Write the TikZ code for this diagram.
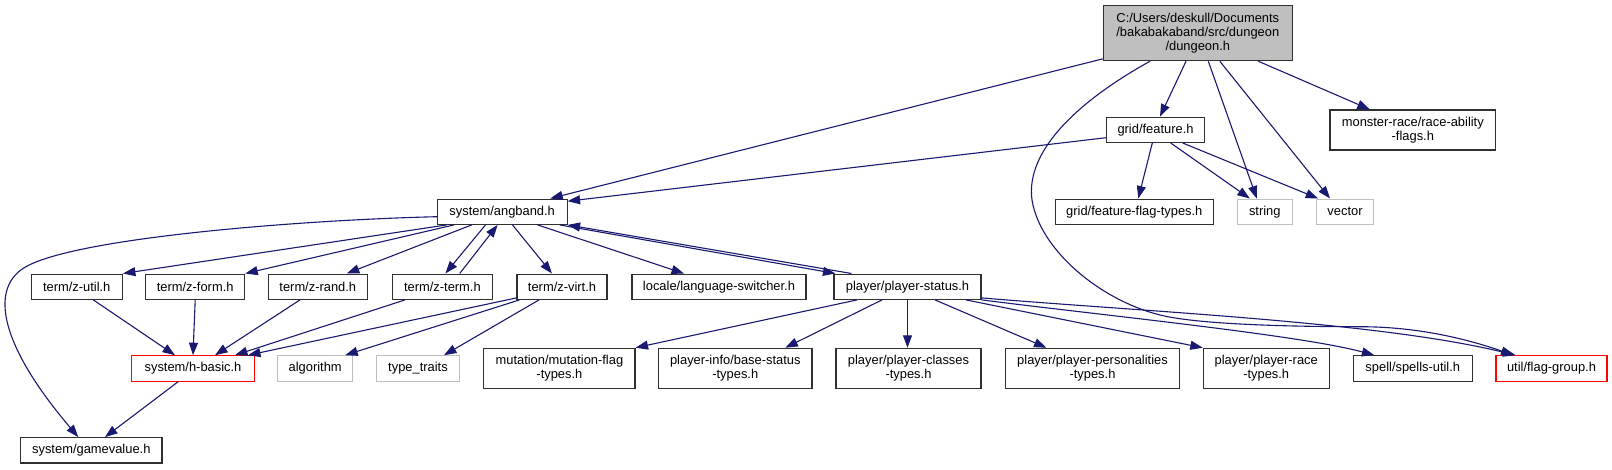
\documentclass[tikz,border=0pt]{standalone}
\usepackage{fontspec}
\setmainfont{Liberation Sans}
\usetikzlibrary{arrows.meta}
\definecolor{edgeblue}{HTML}{191970}
\definecolor{rootfill}{HTML}{BFBFBF}
\definecolor{lightborder}{HTML}{BFBFBF}
\definecolor{boxborder}{HTML}{303030}
\begin{document}
\begin{tikzpicture}[x=1pt,y=-1pt,
 box/.style={draw=boxborder, line width=1.1pt, fill=white, inner sep=0pt, minimum height=25.3pt,
   font=\fontsize{12.9}{13.7}\selectfont, align=center, text=black},
 tall/.style={minimum height=40pt},
 extbox/.style={box, draw=lightborder},
 redbox/.style={box, draw=red},
 edge/.style={draw=edgeblue, line width=1.1pt, -{Triangle[length=12.5pt,width=9pt]}},
]
\useasboundingbox (0,0) rectangle (1612,469);

% row 0
\node[box, fill=rootfill, minimum width=189pt, minimum height=55pt] (dungeon) at (1197.8,33.2)
  {C:/Users/deskull/Documents\\/bakabakaband/src/dungeon\\/dungeon.h};
% row 1
\node[box, minimum width=97.6pt] (feature) at (1155.5,129.8) {grid/feature.h};
\node[box, tall, minimum width=165.7pt] (monster) at (1412.8,130) {monster-race/race-ability\\-flags.h};
% row 2
\node[box, minimum width=129.7pt] (angband) at (502.2,211.7) {system/angband.h};
\node[box, minimum width=158pt] (featflag) at (1134.3,211.7) {grid/feature-flag-types.h};
\node[extbox, minimum width=55pt] (string) at (1264.8,211.7) {string};
\node[extbox, minimum width=56.6pt] (vector) at (1345,211.7) {vector};
% row 3
\node[box, minimum width=91.3pt] (zutil) at (76.7,286.7) {term/z-util.h};
\node[box, minimum width=99pt] (zform) at (195.2,286.7) {term/z-form.h};
\node[box, minimum width=99pt] (zrand) at (317.8,286.7) {term/z-rand.h};
\node[box, minimum width=100pt] (zterm) at (442.4,286.7) {term/z-term.h};
\node[box, minimum width=90pt] (zvirt) at (562,286.7) {term/z-virt.h};
\node[box, minimum width=174pt] (lang) at (719,286.7) {locale/language-switcher.h};
\node[box, minimum width=147pt] (pstatus) at (907.5,286.7) {player/player-status.h};
% row 4
\node[redbox, minimum width=122.6pt] (hbasic) at (193,368.4) {system/h-basic.h};
\node[extbox, minimum width=75pt] (algorithm) at (315.2,368.4) {algorithm};
\node[extbox, minimum width=82.6pt] (typetraits) at (418,368.4) {type\_traits};
\node[box, tall, minimum width=151.2pt] (mutation) at (559.4,368.3) {mutation/mutation-flag\\-types.h};
\node[box, tall, minimum width=153.4pt] (basestatus) at (735.3,368.3) {player-info/base-status\\-types.h};
\node[box, tall, minimum width=145pt] (classes) at (908.5,368.3) {player/player-classes\\-types.h};
\node[box, tall, minimum width=173.6pt] (personalities) at (1092.5,368.3) {player/player-personalities\\-types.h};
\node[box, tall, minimum width=125.7pt] (race) at (1266.2,368.3) {player/player-race\\-types.h};
\node[box, minimum width=119pt] (spells) at (1412.8,368.4) {spell/spells-util.h};
\node[redbox, minimum width=111pt] (flaggroup) at (1551.5,368.4) {util/flag-group.h};
% row 5
\node[box, minimum width=141.3pt] (gamevalue) at (91.3,450.3) {system/gamevalue.h};

% edges from dungeon.h
\draw[edge] ([yshift=2.4]dungeon.south west) -- ([xshift=48]angband.north);
\draw[edge] ([xshift=-11.8]dungeon.south) -- ([xshift=4.5]feature.north);
\draw[edge] ([xshift=10.5]dungeon.south) -- ([xshift=-8]string.north);
\draw[edge] ([xshift=22]dungeon.south) -- ([xshift=-15]vector.north);
\draw[edge] ([xshift=60.5]dungeon.south) -- ([xshift=-43]monster.north);
\draw[edge] ([xshift=-47.8]dungeon.south) .. controls (1080,100) and (1025,150) .. (1032,200)
  .. controls (1040,250) and (1100,300) .. (1160,315)
  .. controls (1200,325) and (1300,326.7) .. (1360,326.7)
  .. controls (1420,326.7) and (1470,340) .. ([xshift=-38]flaggroup.north);

% edges from grid/feature.h
\draw[edge] ([yshift=-7.9]feature.west) -- ([yshift=-2.7]angband.north east);
\draw[edge] ([xshift=-3.2]feature.south) -- ([xshift=4]featflag.north);
\draw[edge] ([xshift=15.2]feature.south) -- ([xshift=-15]string.north);
\draw[edge] ([xshift=27.2]feature.south) -- ([xshift=2]vector.north west);

% edges from system/angband.h
\draw[edge] ([yshift=-5]angband.west) .. controls (300,220) and (70,238) .. (23.3,268.3)
  .. controls (-10,290) and (0,345) .. ([xshift=-13]gamevalue.north);
\draw[edge] ([xshift=-55.5]angband.south) -- (zutil.north east);
\draw[edge] ([xshift=-48.2]angband.south) -- (zform.north east);
\draw[edge] ([xshift=-30.5]angband.south) -- ([xshift=29]zrand.north);
\draw[edge] ([xshift=-16.7]angband.south) -- ([xshift=3]zterm.north);
\draw[edge] ([xshift=17.3]zterm.north) -- ([xshift=-4.6]angband.south);
\draw[edge] ([xshift=10.3]angband.south) -- ([xshift=-10]zvirt.north);
\draw[edge] ([xshift=35.3]angband.south) -- ([xshift=-35]lang.north);
\draw[edge] ([xshift=-8]angband.south east) -- ([xshift=2]pstatus.north west);
\draw[edge] ([xshift=18]pstatus.north west) -- (angband.south east);

% row 3 to row 4
\draw[edge] ([xshift=16.6]zutil.south) -- ([xshift=-18]hbasic.north);
\draw[edge] (zform.south) -- (hbasic.north);
\draw[edge] ([xshift=-17.8]zrand.south) -- ([xshift=22]hbasic.north);
\draw[edge] ([xshift=-37.4]zterm.south) -- ([xshift=42]hbasic.north);
\draw[edge] ([yshift=2]zvirt.south west) -- ([xshift=55]hbasic.north);
\draw[edge] ([xshift=3]zvirt.south west) -- ([xshift=30]algorithm.north);
\draw[edge] ([xshift=-23]zvirt.south) -- ([xshift=26]typetraits.north);
\draw[edge] ([xshift=-14.7]hbasic.south) -- ([xshift=13.7]gamevalue.north);

% edges from player/player-status.h
\draw[edge] ([xshift=-50.5]pstatus.south) -- (mutation.north east);
\draw[edge] ([xshift=-25.5]pstatus.south) -- ([xshift=50]basestatus.north);
\draw[edge] (pstatus.south) -- ([xshift=-1]classes.north);
\draw[edge] ([xshift=27.5]pstatus.south) -- ([xshift=-46]personalities.north);
\draw[edge] ([xshift=58.5]pstatus.south) -- (race.north west);
\draw[edge] (pstatus.south east) .. controls (1100,315) and (1300,335) .. ([xshift=-38.5]spells.north);
\draw[edge] ([yshift=2]pstatus.south east) .. controls (1150,312) and (1380,322) .. ([xshift=-36]flaggroup.north);
\end{tikzpicture}
\end{document}
